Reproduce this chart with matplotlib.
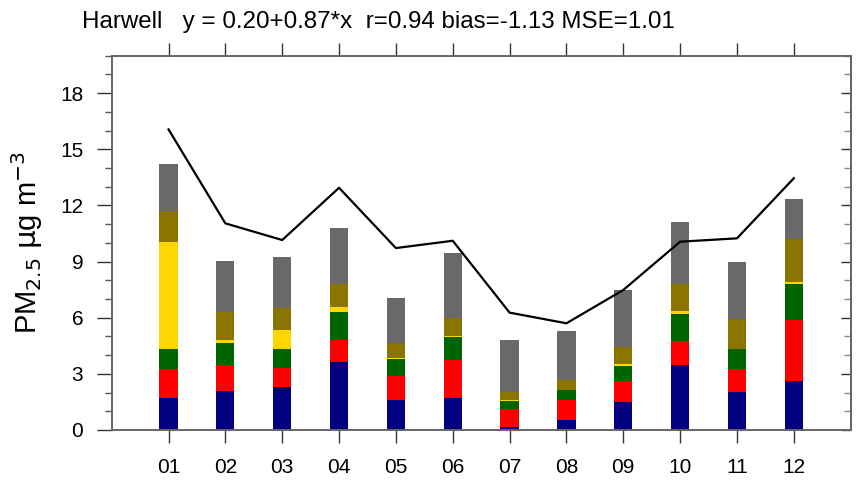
import matplotlib.pyplot as plt
import numpy as np
from matplotlib.ticker import MultipleLocator

plt.rcParams['font.family'] = ['Liberation Sans', 'DejaVu Sans']

# Monthly PM2.5 components at Harwell (stacked) and observed total (line)
meses = ["01", "02", "03", "04", "05", "06", "07", "08", "09", "10", "11", "12"]
comp_navy = [1.71, 2.07, 2.28, 3.65, 1.62, 1.71, 0.18, 0.55, 1.50, 3.45, 2.03, 2.63]
comp_vermelho = [1.53, 1.40, 1.01, 1.16, 1.28, 2.03, 0.94, 1.04, 1.10, 1.30, 1.21, 3.23]
comp_verde = [1.07, 1.16, 1.06, 1.49, 0.91, 1.21, 0.41, 0.55, 0.84, 1.47, 1.07, 1.94]
comp_ouro = [5.73, 0.18, 0.99, 0.25, 0.02, 0.07, 0.07, 0.0, 0.09, 0.12, 0.0, 0.09]
comp_oliva = [1.64, 1.49, 1.16, 1.27, 0.82, 0.98, 0.43, 0.53, 0.92, 1.44, 1.62, 2.30]
comp_cinza = [2.53, 2.73, 2.74, 2.97, 2.40, 3.44, 2.80, 2.60, 3.03, 3.33, 3.06, 2.13]
observado = [16.06, 11.04, 10.15, 12.94, 9.72, 10.11, 6.27, 5.70, 7.48, 10.06, 10.24, 13.45]

componentes = [comp_navy, comp_vermelho, comp_verde, comp_ouro, comp_oliva, comp_cinza]
cores = ["#000080", "#FF0000", "#006400", "#FFD700", "#8B7500", "#696969"]

x = np.arange(1, len(meses) + 1)

fig = plt.figure(figsize=(8.61, 4.84), dpi=100)
ax = fig.add_axes([0.1297, 0.1116, 0.8583, 0.7734])

base = np.zeros(len(meses))
for valores, cor in zip(componentes, cores):
    ax.bar(x, valores, width=0.32, bottom=base, color=cor, linewidth=0)
    base += np.array(valores)

ax.plot(x, observado, color="black", lw=1.6)

ax.set_xlim(0, 13)
ax.set_ylim(0, 20)
ax.set_xticks(x)
ax.set_xticklabels(meses, fontsize=15)
ax.yaxis.set_major_locator(MultipleLocator(3))
ax.yaxis.set_minor_locator(MultipleLocator(1))
ax.tick_params(axis='y', which='major', direction='out', length=10.5, width=1, labelsize=15,
               pad=10, color="#333333")
ax.tick_params(axis='y', which='minor', direction='out', length=5.4, width=1, color="#555555")
ax.tick_params(axis='x', which='major', direction='out', length=9.4, width=1, top=True,
               pad=10.5, color="#333333")

# right side: ticks pointing inward
dir_ax = ax.secondary_yaxis('right')
dir_ax.yaxis.set_major_locator(MultipleLocator(3))
dir_ax.yaxis.set_minor_locator(MultipleLocator(1))
dir_ax.tick_params(which='major', direction='in', length=7.2, width=1, labelright=False, color="#333333")
dir_ax.tick_params(which='minor', direction='in', length=5, width=1, color="#888888")
dir_ax.spines['right'].set_color("#666666")
dir_ax.spines['right'].set_linewidth(1.4)

for s in ax.spines.values():
    s.set_color("#666666")
    s.set_linewidth(1.4)

ax.set_ylabel(r"PM$_{2.5}$ $\mathrm{\mu}$g m$^{-3}$", fontsize=21)
ax.yaxis.set_label_coords(-0.09, 0.5)

fig.text(0.095, 0.955, "Harwell   y = 0.20+0.87*x  r=0.94 bias=-1.13 MSE=1.01",
         fontsize=17.4, ha="left", va="center")

plt.savefig("out.png", dpi=100)
